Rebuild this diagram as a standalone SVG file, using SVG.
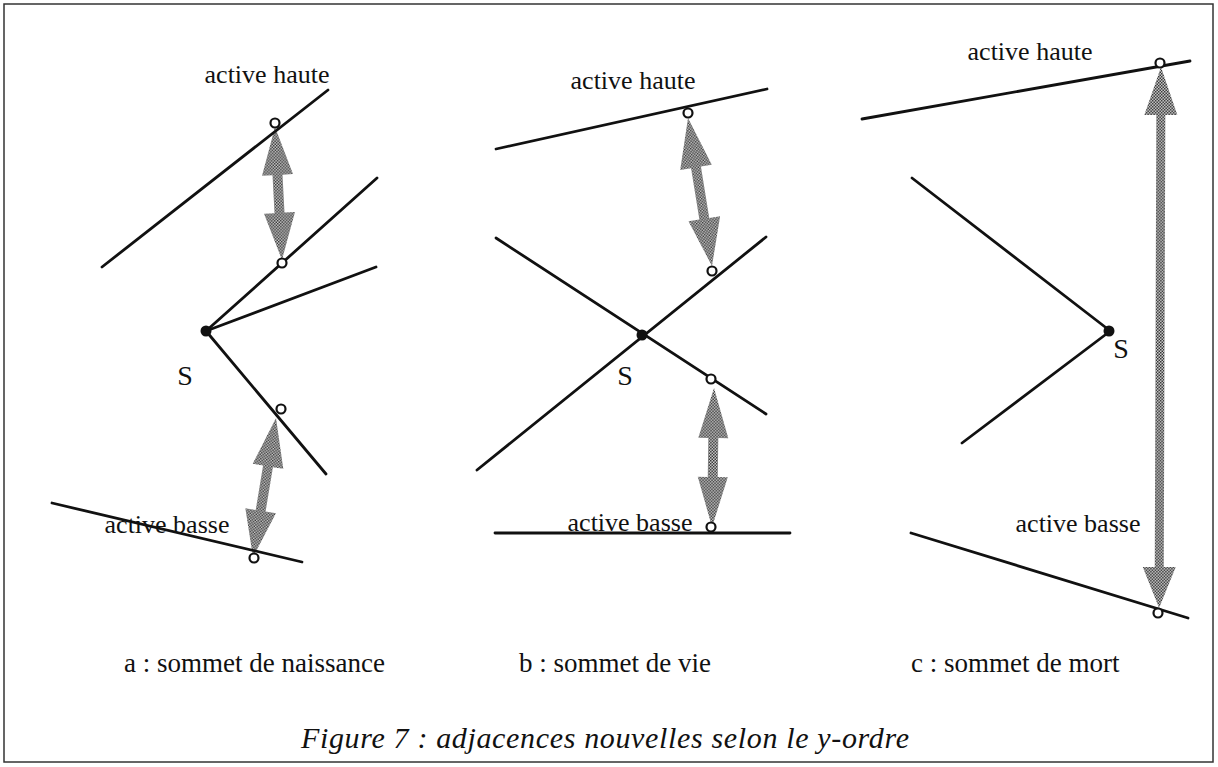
<svg xmlns="http://www.w3.org/2000/svg" width="1218" height="767" viewBox="0 0 1218 767">
<defs>
<pattern id="chk" width="3" height="3" patternUnits="userSpaceOnUse">
<rect width="3" height="3" fill="#cfcfcf"/>
<rect width="1.5" height="1.5" fill="#333"/>
<rect x="1.5" y="1.5" width="1.5" height="1.5" fill="#333"/>
</pattern>
</defs>
<style>
.seg{stroke:#111;stroke-width:2.8;stroke-linecap:round;fill:none}
.arr{fill:url(#chk);stroke:none}
.pt{fill:#fff;stroke:#111;stroke-width:2.2}
.vx{fill:#111}
.lbl{font-family:"Liberation Serif","Times New Roman",serif;font-size:26px;fill:#111}
.sub{font-family:"Liberation Serif","Times New Roman",serif;font-size:27px;fill:#111}
.s{font-family:"Liberation Serif","Times New Roman",serif;font-size:28px;fill:#111}
.cap{font-family:"Liberation Serif","Times New Roman",serif;font-size:30px;font-style:italic;fill:#111}
</style>
<rect x="4" y="4" width="1209" height="758" fill="#fff" stroke="#333" stroke-width="1.5"/>

<g id="connectors">
<polygon class="arr" transform="translate(275,127) rotate(-3)" points="0,0 15.5,48 5,48 5,86 15.5,86 0,133 -15.5,86 -5,86 -5,48 -15.5,48"/>
<polygon class="arr" transform="translate(276,418) rotate(9.4)" points="0,0 15.5,49 5,49 5,94 15.5,94 0,141 -15.5,94 -5,94 -5,49 -15.5,49"/>
<polygon class="arr" transform="translate(688,118) rotate(-9.2)" points="0,0 16,50 5,50 5,102 16,102 0,150 -16,102 -5,102 -5,50 -16,50"/>
<polygon class="arr" transform="translate(714,388) rotate(0.8)" points="0,0 15,50 5,50 5,89 15,89 0,139 -15,89 -5,89 -5,50 -15,50"/>
<polygon class="arr" transform="translate(1161,67) rotate(0.2)" points="0,0 16.5,48 4.5,48 4.5,500 16.5,500 0,541 -16.5,500 -4.5,500 -4.5,48 -16.5,48"/>
</g>

<g id="panel-a">
<line class="seg" x1="102" y1="267" x2="328" y2="90"/>
<line class="seg" x1="206" y1="331" x2="377" y2="178"/>
<line class="seg" x1="206" y1="331" x2="376" y2="267"/>
<line class="seg" x1="206" y1="331" x2="326" y2="474"/>
<line class="seg" x1="52" y1="503" x2="302" y2="562"/>
<circle class="pt" cx="275" cy="123" r="4.5"/>
<circle class="pt" cx="282" cy="263" r="4.5"/>
<circle class="pt" cx="281" cy="409" r="4.5"/>
<circle class="pt" cx="254" cy="558" r="4.5"/>
<circle class="vx" cx="206" cy="331" r="5.5"/>
<text class="lbl" x="267" y="83" text-anchor="middle">active haute</text>
<text class="lbl" x="167" y="533" text-anchor="middle">active basse</text>
<text class="s" x="185" y="385" text-anchor="middle">S</text>
<text class="sub" x="124" y="672">a : sommet de naissance</text>
</g>

<g id="panel-b">
<line class="seg" x1="496" y1="149" x2="767" y2="89"/>
<line class="seg" x1="477" y1="470" x2="766" y2="237"/>
<line class="seg" x1="496" y1="238" x2="766" y2="414"/>
<line class="seg" x1="495" y1="533" x2="790" y2="533"/>
<circle class="pt" cx="688" cy="113" r="4.5"/>
<circle class="pt" cx="712" cy="271" r="4.5"/>
<circle class="pt" cx="711" cy="379" r="4.5"/>
<circle class="pt" cx="711" cy="527" r="4.5"/>
<circle class="vx" cx="642" cy="335" r="5.5"/>
<text class="lbl" x="633" y="89" text-anchor="middle">active haute</text>
<text class="lbl" x="630" y="531" text-anchor="middle">active basse</text>
<text class="s" x="625" y="385" text-anchor="middle">S</text>
<text class="sub" x="519" y="672">b : sommet de vie</text>
</g>

<g id="panel-c">
<line class="seg" x1="862" y1="119" x2="1190" y2="61"/>
<line class="seg" x1="912" y1="178" x2="1109" y2="330"/>
<line class="seg" x1="1109" y1="332" x2="962" y2="443"/>
<line class="seg" x1="911" y1="533" x2="1188" y2="618"/>
<circle class="pt" cx="1160" cy="63" r="4.5"/>
<circle class="pt" cx="1158" cy="613" r="4.5"/>
<circle class="vx" cx="1109" cy="331" r="5.5"/>
<text class="lbl" x="1030" y="60" text-anchor="middle">active haute</text>
<text class="lbl" x="1078" y="532" text-anchor="middle">active basse</text>
<text class="s" x="1121" y="358" text-anchor="middle">S</text>
<text class="sub" x="911" y="672">c : sommet de mort</text>
</g>

<g id="caption">
<text class="cap" x="605" y="748" text-anchor="middle" textLength="608" lengthAdjust="spacing">Figure 7 : adjacences nouvelles selon le y-ordre</text>
</g>
</svg>
